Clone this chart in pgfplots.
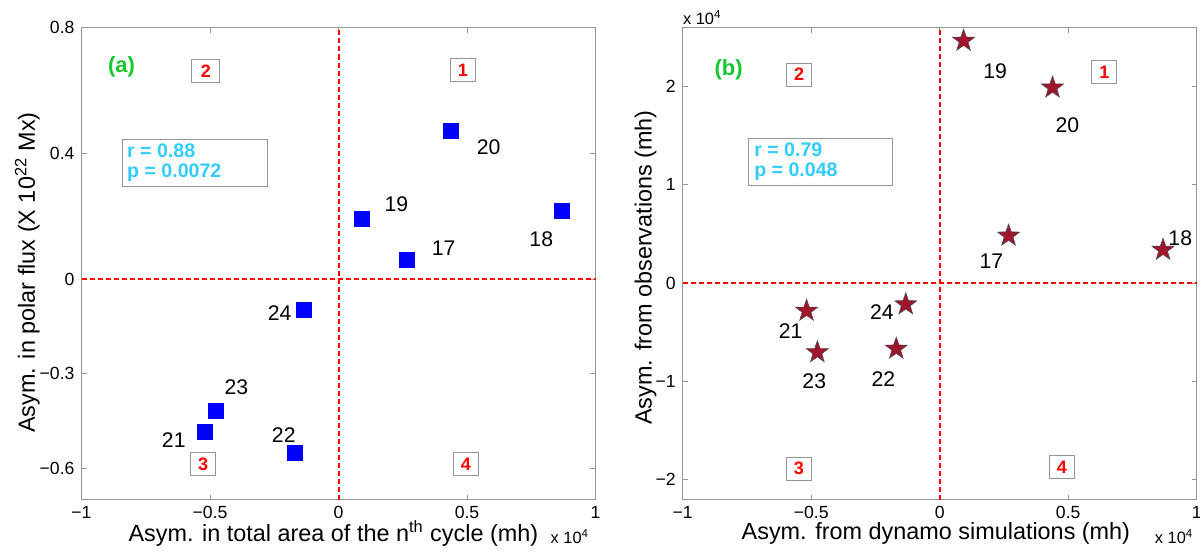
\documentclass[border=0pt]{standalone}
\usepackage{fontspec}
\setmainfont{Liberation Sans}
\usepackage{pgfplots}
\pgfplotsset{compat=1.18}
\definecolor{starred}{RGB}{160,20,45}
\definecolor{statcyan}{RGB}{51,204,255}
\definecolor{panelgreen}{RGB}{20,200,50}
\definecolor{axgray}{RGB}{150,150,150}
\pgfdeclareplotmark{fstar}{%
  \pgfpathmoveto{\pgfpointpolar{90}{\pgfplotmarksize}}%
  \pgfpathlineto{\pgfpointpolar{126}{0.4\pgfplotmarksize}}%
  \pgfpathlineto{\pgfpointpolar{162}{\pgfplotmarksize}}%
  \pgfpathlineto{\pgfpointpolar{198}{0.4\pgfplotmarksize}}%
  \pgfpathlineto{\pgfpointpolar{234}{\pgfplotmarksize}}%
  \pgfpathlineto{\pgfpointpolar{270}{0.4\pgfplotmarksize}}%
  \pgfpathlineto{\pgfpointpolar{306}{\pgfplotmarksize}}%
  \pgfpathlineto{\pgfpointpolar{342}{0.4\pgfplotmarksize}}%
  \pgfpathlineto{\pgfpointpolar{18}{\pgfplotmarksize}}%
  \pgfpathlineto{\pgfpointpolar{54}{0.4\pgfplotmarksize}}%
  \pgfpathclose
  \pgfusepathqfillstroke
}
\pgfplotsset{
  myax/.style={
    scale only axis, width=257pt, height=236pt,
    xmin=-1, xmax=1,
    axis line style={draw=axgray, line width=0.5pt},
    every tick/.style={draw=axgray, line width=0.5pt},
    major tick length=2.5pt,
    tick align=inside,
    xtick={-1,-0.5,0,0.5,1}, xticklabels={−1,−0.5,0,0.5,1},
    tick label style={font=\fontsize{8.8}{10}\selectfont},
    xticklabel style={inner sep=0.5pt, yshift=-2.6pt},
    label style={font=\fontsize{11.7}{13}\selectfont, inner sep=0pt},
    clip=false,
  },
}
\tikzset{
  qbox/.style={draw=axgray, line width=0.5pt, fill=white, text=red, font=\fontsize{9}{10}\selectfont\bfseries, minimum width=12.5pt, minimum height=11.5pt, inner sep=0pt},
  plab/.style={font=\fontsize{10.6}{12}\selectfont},
  stat/.style={text=statcyan, font=\fontsize{9.8}{11}\selectfont\bfseries, anchor=base west, inner sep=0pt},
  x4/.style={font=\fontsize{8.2}{9}\selectfont, inner sep=0pt},
}
\begin{document}
\begin{tikzpicture}
% ---------------- panel (a)
\begin{axis}[myax, at={(40.75pt,26.75pt)}, anchor=south west,
  ymin=-0.7, ymax=0.8,
  ytick={-0.6,-0.3,0,0.4,0.8}, yticklabels={−0.6,−0.3,0,0.4,0.8},
  xlabel={Asym. in total area of the n\textsuperscript{th} cycle (mh)},
  ylabel={Asym. in polar flux (X 10\textsuperscript{22} Mx)},
  xlabel style={at={(axis description cs:0.49,-0.089)}, anchor=base},
  ylabel style={at={(axis description cs:-0.0905,0.481)}, anchor=base},
]
\addplot[red, line width=1pt, dash pattern=on 2.5pt off 1.5pt] coordinates {(0,-0.7) (0,0.8)};
\addplot[red, line width=1pt, dash pattern=on 2.5pt off 1.5pt] coordinates {(-1,0) (1,0)};
\addplot[only marks, mark=square*, mark size=3.75pt, color=blue] coordinates {
 (0.266,0.061) (0.868,0.217) (0.091,0.192) (0.437,0.472)
 (-0.521,-0.484) (-0.171,-0.553) (-0.478,-0.419) (-0.135,-0.098)};
\node[plab] at (axis cs:0.409,0.098) {17};
\node[plab] at (axis cs:0.789,0.126) {18};
\node[plab] at (axis cs:0.225,0.238) {19};
\node[plab] at (axis cs:0.584,0.421) {20};
\node[plab] at (axis cs:-0.641,-0.511) {21};
\node[plab] at (axis cs:-0.213,-0.494) {22};
\node[plab] at (axis cs:-0.397,-0.343) {23};
\node[plab] at (axis cs:-0.229,-0.107) {24};
\node[qbox] at (axis cs:0.484,0.664) {1};
\node[qbox, minimum width=14pt] at (axis cs:-0.516,0.661) {2};
\node[qbox] at (axis cs:-0.527,-0.588) {3};
\node[qbox] at (axis cs:0.496,-0.588) {4};
\node[text=panelgreen, font=\fontsize{11}{12}\selectfont\bfseries] at (axis cs:-0.844,0.675) {(a)};
\node[draw=axgray, line width=0.5pt, anchor=north west, minimum width=72.3pt, minimum height=23.9pt, inner sep=0pt] at (axis cs:-0.842,0.447) {};
\node[stat] at (axis cs:-0.824,0.387) {r = 0.88};
\node[stat] at (axis cs:-0.824,0.322) {p = 0.0072};
\node[x4, anchor=base east, xshift=-3pt, yshift=-21.75pt] at (axis description cs:1,0) {x 10\textsuperscript{4}};
\end{axis}
% ---------------- panel (b)
\begin{axis}[myax, at={(341.35pt,26.75pt)}, anchor=south west,
  ymin=-2.2, ymax=2.6,
  ytick={-2,-1,0,1,2}, yticklabels={−2,−1,0,1,2},
  xlabel={Asym. from dynamo simulations (mh)},
  ylabel={Asym. from observations (mh)},
  xlabel style={at={(axis description cs:0.4926,-0.0858)}, anchor=base},
  ylabel style={at={(axis description cs:-0.0603,0.4915)}, anchor=base},
]
\addplot[red, line width=1pt, dash pattern=on 2.5pt off 1.5pt] coordinates {(0,-2.2) (0,2.6)};
\addplot[red, line width=1pt, dash pattern=on 2.5pt off 1.5pt] coordinates {(-1,0) (1,0)};
\addplot[only marks, mark=fstar, mark size=5.8pt,
  mark options={fill=starred, draw=black!70, line width=0.3pt}] coordinates {
 (0.268,0.483) (0.869,0.339) (0.093,2.465) (0.439,1.989)
 (-0.518,-0.281) (-0.169,-0.667) (-0.476,-0.703) (-0.132,-0.216)};
\node[plab] at (axis cs:0.201,0.223) {17};
\node[plab] at (axis cs:0.936,0.458) {18};
\node[plab] at (axis cs:0.216,2.151) {19};
\node[plab] at (axis cs:0.497,1.611) {20};
\node[plab] at (axis cs:-0.580,-0.490) {21};
\node[plab] at (axis cs:-0.219,-0.977) {22};
\node[plab] at (axis cs:-0.488,-0.995) {23};
\node[plab] at (axis cs:-0.225,-0.299) {24};
\node[qbox] at (axis cs:0.641,2.144) {1};
\node[qbox] at (axis cs:-0.547,2.122) {2};
\node[qbox] at (axis cs:-0.548,-1.885) {3};
\node[qbox] at (axis cs:0.475,-1.874) {4};
\node[text=panelgreen, font=\fontsize{11}{12}\selectfont\bfseries] at (axis cs:-0.821,2.17) {(b)};
\node[draw=axgray, line width=0.5pt, anchor=north west, minimum width=72.3pt, minimum height=23.6pt, inner sep=0pt] at (axis cs:-0.747,1.480) {};
\node[stat] at (axis cs:-0.723,1.290) {r = 0.79};
\node[stat] at (axis cs:-0.723,1.080) {p = 0.048};
\node[x4, anchor=base east, xshift=-1.5pt, yshift=-21.75pt] at (axis description cs:1,0) {x 10\textsuperscript{4}};
\node[x4, anchor=base west, yshift=1.75pt] at (axis description cs:0,1) {x 10\textsuperscript{4}};
\end{axis}
\pgfresetboundingbox
\useasboundingbox (0,0) rectangle (600pt,276.5pt);
\end{tikzpicture}
\end{document}
